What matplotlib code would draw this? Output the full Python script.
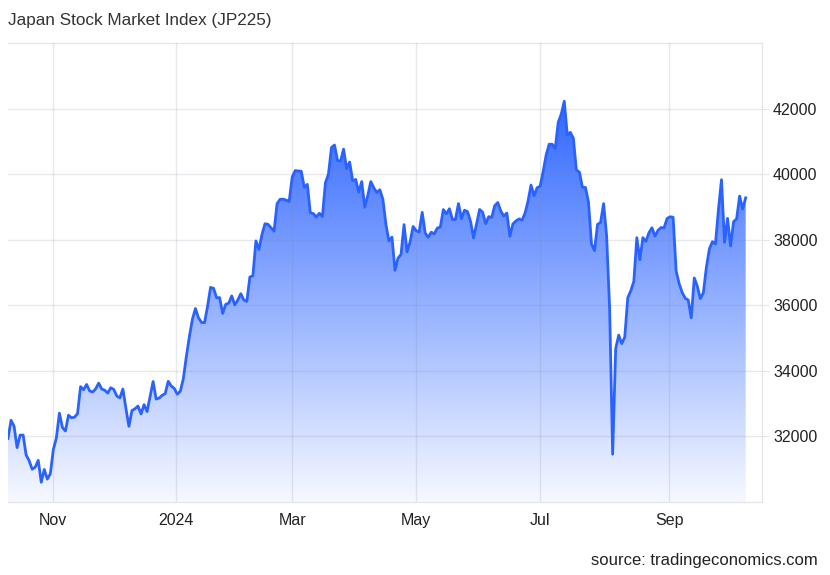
#!/usr/bin/env python3
"""Japan Stock Market Index (JP225) - one year area chart."""

import matplotlib

matplotlib.use("Agg")
import matplotlib.dates as mdates
import matplotlib.pyplot as plt
import numpy as np
import pandas as pd

plt.rcParams["font.family"] = ["Liberation Sans", "DejaVu Sans"]

TITLE = "Japan Stock Market Index (JP225)"
SOURCE = "source: tradingeconomics.com"

# daily closes
dates = [
    "2023-10-11", "2023-10-12", "2023-10-13", "2023-10-16", "2023-10-17", "2023-10-18",
    "2023-10-19", "2023-10-20", "2023-10-23", "2023-10-24", "2023-10-25", "2023-10-26",
    "2023-10-27", "2023-10-30", "2023-10-31", "2023-11-01", "2023-11-02", "2023-11-06",
    "2023-11-07", "2023-11-08", "2023-11-09", "2023-11-10", "2023-11-13", "2023-11-14",
    "2023-11-15", "2023-11-16", "2023-11-17", "2023-11-20", "2023-11-21", "2023-11-22",
    "2023-11-24", "2023-11-27", "2023-11-28", "2023-11-29", "2023-11-30", "2023-12-01",
    "2023-12-04", "2023-12-05", "2023-12-06", "2023-12-07", "2023-12-08", "2023-12-11",
    "2023-12-12", "2023-12-13", "2023-12-14", "2023-12-15", "2023-12-18", "2023-12-19",
    "2023-12-20", "2023-12-21", "2023-12-22", "2023-12-25", "2023-12-26", "2023-12-27",
    "2023-12-28", "2023-12-29", "2024-01-04", "2024-01-05", "2024-01-09", "2024-01-10",
    "2024-01-11", "2024-01-12", "2024-01-15", "2024-01-16", "2024-01-17", "2024-01-18",
    "2024-01-19", "2024-01-22", "2024-01-23", "2024-01-24", "2024-01-25", "2024-01-26",
    "2024-01-29", "2024-01-30", "2024-01-31", "2024-02-01", "2024-02-02", "2024-02-05",
    "2024-02-06", "2024-02-07", "2024-02-08", "2024-02-09", "2024-02-13", "2024-02-14",
    "2024-02-15", "2024-02-16", "2024-02-19", "2024-02-20", "2024-02-21", "2024-02-22",
    "2024-02-26", "2024-02-27", "2024-02-28", "2024-02-29", "2024-03-01", "2024-03-04",
    "2024-03-05", "2024-03-06", "2024-03-07", "2024-03-08", "2024-03-11", "2024-03-12",
    "2024-03-13", "2024-03-14", "2024-03-15", "2024-03-18", "2024-03-19", "2024-03-21",
    "2024-03-22", "2024-03-25", "2024-03-26", "2024-03-27", "2024-03-28", "2024-03-29",
    "2024-04-01", "2024-04-02", "2024-04-03", "2024-04-04", "2024-04-05", "2024-04-08",
    "2024-04-09", "2024-04-10", "2024-04-11", "2024-04-12", "2024-04-15", "2024-04-16",
    "2024-04-17", "2024-04-18", "2024-04-19", "2024-04-22", "2024-04-23", "2024-04-24",
    "2024-04-25", "2024-04-26", "2024-04-30", "2024-05-01", "2024-05-02", "2024-05-07",
    "2024-05-08", "2024-05-09", "2024-05-10", "2024-05-13", "2024-05-14", "2024-05-15",
    "2024-05-16", "2024-05-17", "2024-05-20", "2024-05-21", "2024-05-22", "2024-05-23",
    "2024-05-24", "2024-05-27", "2024-05-28", "2024-05-29", "2024-05-30", "2024-05-31",
    "2024-06-03", "2024-06-04", "2024-06-05", "2024-06-06", "2024-06-07", "2024-06-10",
    "2024-06-11", "2024-06-12", "2024-06-13", "2024-06-14", "2024-06-17", "2024-06-18",
    "2024-06-19", "2024-06-20", "2024-06-21", "2024-06-24", "2024-06-25", "2024-06-26",
    "2024-06-27", "2024-06-28", "2024-07-01", "2024-07-02", "2024-07-03", "2024-07-04",
    "2024-07-05", "2024-07-08", "2024-07-09", "2024-07-10", "2024-07-11", "2024-07-12",
    "2024-07-16", "2024-07-17", "2024-07-18", "2024-07-19", "2024-07-22", "2024-07-23",
    "2024-07-24", "2024-07-25", "2024-07-26", "2024-07-29", "2024-07-30", "2024-07-31",
    "2024-08-01", "2024-08-02", "2024-08-05", "2024-08-06", "2024-08-07", "2024-08-08",
    "2024-08-09", "2024-08-13", "2024-08-14", "2024-08-15", "2024-08-16", "2024-08-19",
    "2024-08-20", "2024-08-21", "2024-08-22", "2024-08-23", "2024-08-26", "2024-08-27",
    "2024-08-28", "2024-08-29", "2024-08-30", "2024-09-02", "2024-09-03", "2024-09-04",
    "2024-09-05", "2024-09-06", "2024-09-09", "2024-09-10", "2024-09-11", "2024-09-12",
    "2024-09-13", "2024-09-17", "2024-09-18", "2024-09-19", "2024-09-20", "2024-09-24",
    "2024-09-25", "2024-09-26", "2024-09-27", "2024-09-30", "2024-10-01", "2024-10-02",
    "2024-10-03", "2024-10-04", "2024-10-07", "2024-10-08", "2024-10-09",
]

closes = [
    31936, 32494, 32315, 31659, 32040, 32042,
    31430, 31259, 31000, 31062, 31270, 30602,
    30992, 30697, 30859, 31602, 31950, 32709,
    32272, 32166, 32646, 32568, 32586, 32695,
    33519, 33424, 33585, 33388, 33354, 33452,
    33625, 33447, 33408, 33321, 33486, 33431,
    33231, 33176, 33445, 32858, 32307, 32791,
    32843, 32926, 32686, 32970, 32758, 33219,
    33675, 33140, 33169, 33255, 33305, 33681,
    33540, 33464, 33288, 33377, 33763, 34441,
    35049, 35577, 35901, 35619, 35477, 35466,
    35963, 36546, 36517, 36226, 36236, 35751,
    36026, 36065, 36286, 36011, 36158, 36354,
    36160, 36119, 36863, 36897, 37963, 37703,
    38157, 38487, 38470, 38363, 38262, 39098,
    39233, 39239, 39208, 39166, 39910, 40109,
    40097, 40090, 39598, 39688, 38820, 38797,
    38695, 38807, 38707, 39740, 40003, 40815,
    40888, 40414, 40398, 40762, 40168, 40369,
    39803, 39838, 39451, 39773, 38992, 39347,
    39773, 39581, 39442, 39523, 39232, 38471,
    37961, 38079, 37068, 37438, 37552, 38460,
    37628, 37934, 38405, 38274, 38236, 38835,
    38202, 38073, 38229, 38179, 38356, 38385,
    38920, 38787, 38946, 38617, 38617, 39103,
    38646, 38900, 38855, 38556, 38054, 38487,
    38923, 38837, 38490, 38703, 38683, 39038,
    39134, 38876, 38720, 38814, 38102, 38482,
    38570, 38633, 38596, 38804, 39173, 39667,
    39341, 39583, 39631, 40074, 40580, 40913,
    40912, 40780, 41580, 41831, 42224, 41190,
    41275, 41097, 40126, 40063, 39599, 39594,
    39154, 37869, 37667, 38468, 38525, 39101,
    38126, 35909, 31458, 34675, 35089, 34831,
    35025, 36232, 36442, 36726, 38062, 37388,
    38063, 37951, 38211, 38364, 38110, 38288,
    38371, 38362, 38647, 38700, 38686, 37047,
    36657, 36391, 36215, 36159, 35619, 36833,
    36581, 36203, 36380, 37155, 37723, 37940,
    37870, 38926, 39830, 37919, 38651, 37808,
    38552, 38635, 39332, 38937, 39277,
]

y_ticks = [32000, 34000, 36000, 38000, 40000, 42000]
x_ticks = ["2023-11-01", "2024-01-01", "2024-03-01", "2024-05-01", "2024-07-01", "2024-09-01"]
x_labels = ["Nov", "2024", "Mar", "May", "Jul", "Sep"]

LINE = "#2962ff"
BORDER = "#e6e6e6"

# trading days are spaced evenly (ordinal axis); month ticks sit in between
t = mdates.date2num(pd.to_datetime(dates))
idx = np.arange(len(closes), dtype=float)
y = np.array(closes, dtype=float)
tick_pos = np.interp(mdates.date2num(pd.to_datetime(x_ticks)), t, idx)

fig = plt.figure(figsize=(8.3, 5.75), dpi=100)
ax = fig.add_axes([8 / 830, 73 / 575, 754 / 830, 459 / 575])

ymin, ymax = 30000, 44000
xmin, xmax = 0, len(closes) - 1 + 5.4

# gradient fill under the line, stronger near the top
poly = ax.fill_between(idx, y, ymin, color="none", lw=0)
levels = np.linspace(ymin, ymax, 400)
frac = np.clip(0.04 + 0.93 * (levels - ymin) / (42300 - ymin), 0, 1)
rgb = np.array(matplotlib.colors.to_rgb(LINE))
grad = np.ones((len(levels), 1, 4))
grad[:, 0, :3] = 1 - frac[:, None] * (1 - rgb)
img = ax.imshow(grad, extent=[xmin, xmax, ymin, ymax], origin="lower",
                aspect="auto", zorder=1, interpolation="bilinear")
img.set_clip_path(poly.get_paths()[0], ax.transData)

ax.plot(idx, y, color=LINE, lw=2, zorder=3, solid_joinstyle="round")

ax.set_xlim(xmin, xmax)
ax.set_ylim(ymin, ymax)

ax.set_xticks(tick_pos)
ax.set_xticklabels(x_labels)
ax.set_yticks(y_ticks)
ax.yaxis.tick_right()
ax.tick_params(axis="x", length=0, pad=8, labelsize=11.5, labelcolor="#222222")
ax.tick_params(axis="y", length=5, color=BORDER, pad=3,
               labelsize=11.5, labelcolor="#222222")

ax.set_axisbelow(False)
ax.grid(True, color="#7d879c", alpha=0.18, lw=1, zorder=2)

ax.spines["left"].set_visible(False)
for side in ("top", "bottom", "right"):
    ax.spines[side].set_color(BORDER)
    ax.spines[side].set_linewidth(1)

fig.text(8 / 830, 1 - 20 / 575, TITLE, fontsize=12.3, color="#333333",
         ha="left", va="center")
fig.text(818 / 830, 1 - 560 / 575, SOURCE, fontsize=12, color="#222222",
         ha="right", va="center")

fig.savefig("out.png", dpi=100, facecolor="white")
